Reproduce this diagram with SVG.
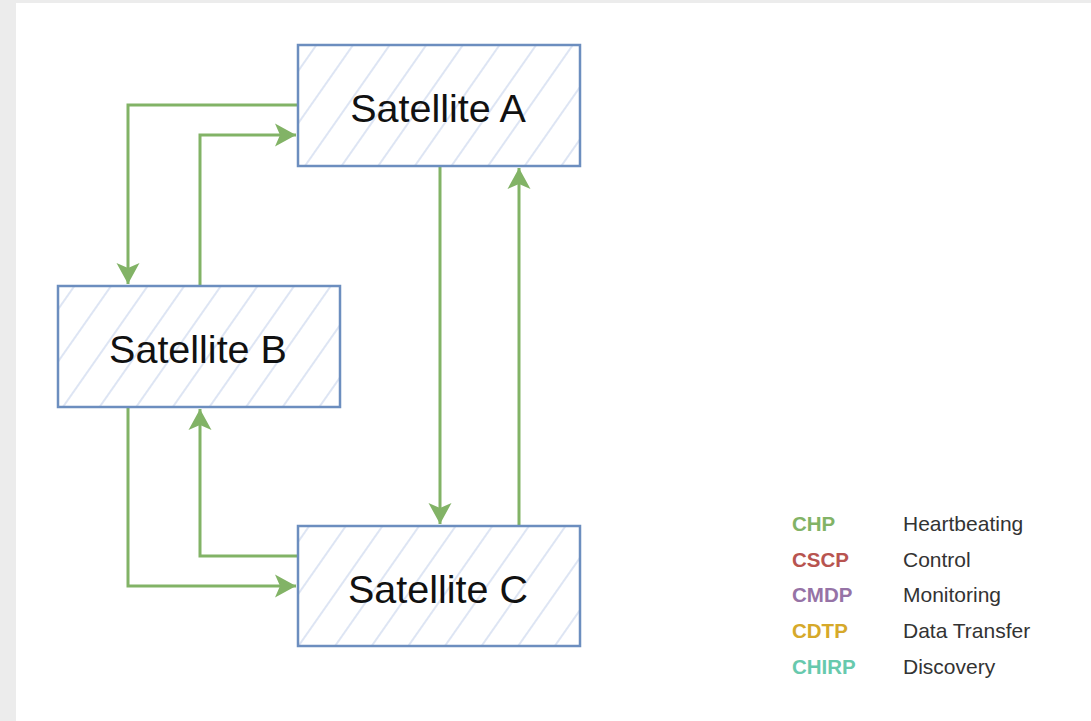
<svg xmlns="http://www.w3.org/2000/svg" width="1091" height="721" viewBox="0 0 1091 721">
<style>
.box{fill:url(#hatch);stroke:#6c8ebf;stroke-width:2.5}
.lbl{font-family:"Liberation Sans",Arial,sans-serif;font-size:39.5px;fill:#111111;text-anchor:middle}
.conn{fill:none;stroke:#82b366;stroke-width:3}
.lk{font-family:"Liberation Sans",Arial,sans-serif;font-size:20.5px;font-weight:bold}
.lv{font-family:"Liberation Sans",Arial,sans-serif;font-size:21px;fill:#333}
</style>
<defs>
<pattern id="hatch" patternUnits="userSpaceOnUse" width="30" height="30" patternTransform="rotate(35)">
<rect width="30" height="30" fill="#ffffff"/>
<line x1="15" y1="0" x2="15" y2="30" stroke="#ccd8ee" stroke-width="1.3"/>
</pattern>
<marker id="arr" markerUnits="userSpaceOnUse" markerWidth="24" markerHeight="24" viewBox="0 0 24 24" refX="22" refY="12" orient="auto">
<path d="M1,0.5 L22,12 L1,23.5 L6,12 Z" fill="#82b366"/>
</marker>
</defs>
<rect x="0" y="0" width="1091" height="721" fill="#ececec"/>
<rect x="16" y="3" width="1075" height="718" fill="#ffffff"/>
<g id="connectors">
<path class="conn" d="M298,105 H128 V284" marker-end="url(#arr)"/>
<path class="conn" d="M200,286 V135 H296" marker-end="url(#arr)"/>
<path class="conn" d="M440,166 V524" marker-end="url(#arr)"/>
<path class="conn" d="M519,526 V168" marker-end="url(#arr)"/>
<path class="conn" d="M298,556 H200 V409" marker-end="url(#arr)"/>
<path class="conn" d="M128,407 V586 H296" marker-end="url(#arr)"/>
</g>
<g id="satA">
<rect class="box" x="298" y="45" width="282" height="121"/>
<text class="lbl" x="438" y="122">Satellite A</text>
</g>
<g id="satB">
<rect class="box" x="58" y="286" width="282" height="121"/>
<text class="lbl" x="198" y="363">Satellite B</text>
</g>
<g id="satC">
<rect class="box" x="298" y="526" width="282" height="120"/>
<text class="lbl" x="438" y="603">Satellite C</text>
</g>
<g id="legend">
<text class="lk" x="792" y="531" fill="#82b366">CHP</text>
<text class="lv" x="903" y="531">Heartbeating</text>
<text class="lk" x="792" y="567" fill="#b85450">CSCP</text>
<text class="lv" x="903" y="567">Control</text>
<text class="lk" x="792" y="602" fill="#9673a6">CMDP</text>
<text class="lv" x="903" y="602">Monitoring</text>
<text class="lk" x="792" y="638" fill="#d6a92a">CDTP</text>
<text class="lv" x="903" y="638">Data Transfer</text>
<text class="lk" x="792" y="674" fill="#67c9ad">CHIRP</text>
<text class="lv" x="903" y="674">Discovery</text>
</g>
</svg>
